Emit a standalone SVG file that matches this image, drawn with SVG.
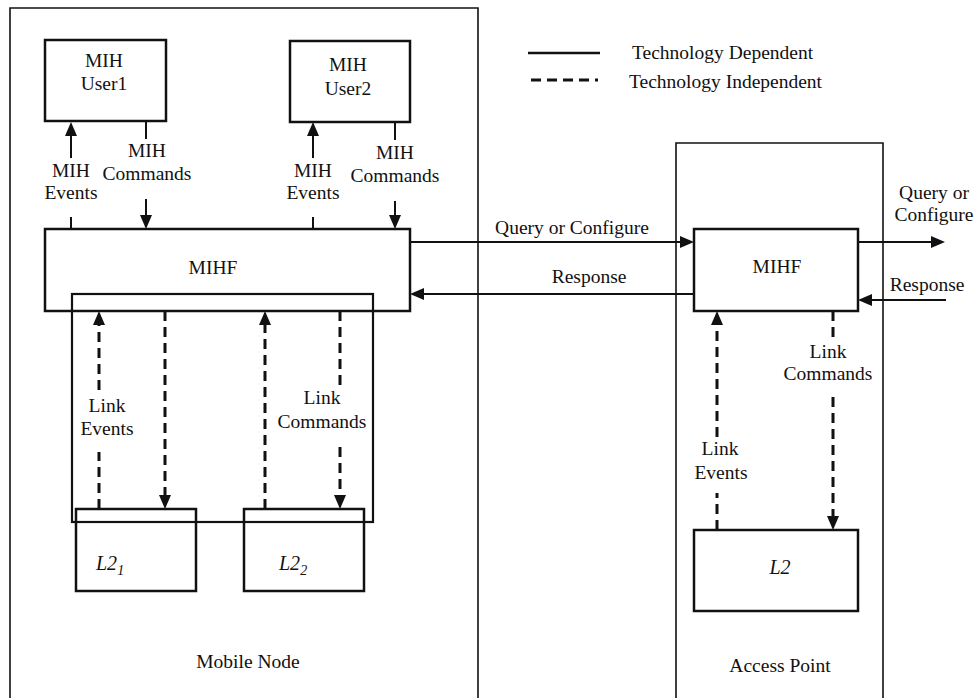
<svg xmlns="http://www.w3.org/2000/svg" width="976" height="698" viewBox="0 0 976 698">
<defs>
<style>
text{font-family:"Liberation Serif","Times New Roman",serif;font-size:19.5px;fill:#111;}
.m{text-anchor:middle;}
.box{fill:#fff;stroke:#111;stroke-width:2.5;}
.obox{fill:none;stroke:#111;stroke-width:2.5;}
.frame{fill:none;stroke:#111;stroke-width:1.6;}
.inner{fill:none;stroke:#111;stroke-width:2.2;}
.solid{fill:none;stroke:#111;stroke-width:2;}
.dash{fill:none;stroke:#111;stroke-width:3;stroke-dasharray:10 6;}
.it{font-style:italic;font-size:20px;}
</style>
<marker id="ah" viewBox="0 0 14 12" markerWidth="14" markerHeight="12" refX="4" refY="6" orient="auto" markerUnits="userSpaceOnUse">
<path d="M0,0 L14,6 L0,12 z" fill="#111"/>
</marker>
</defs>
<rect width="976" height="698" fill="#fff"/>

<g id="mobile-node">
<path class="frame" d="M10,698 V8 H478 V698"/>
<text class="m" x="248" y="668">Mobile Node</text>
</g>
<g id="access-point">
<path class="frame" d="M676,698 V143 H883 V698"/>
<text class="m" x="780" y="672">Access Point</text>
</g>

<g id="legend">
<line x1="528" y1="53" x2="600" y2="53" stroke="#111" stroke-width="2.5"/>
<line x1="531" y1="80" x2="601" y2="80" stroke="#111" stroke-width="3" stroke-dasharray="10 6 10 6 10 6 10 6 3 100"/>
<text x="632" y="59">Technology Dependent</text>
<text x="629" y="88">Technology Independent</text>
</g>

<g id="mih-user1">
<rect class="box" x="45" y="40" width="121" height="81"/>
<text class="m" x="104" y="67">MIH</text>
<text class="m" x="104" y="90">User1</text>
</g>
<g id="mih-user2">
<rect class="box" x="290" y="41" width="120" height="81"/>
<text class="m" x="348" y="71">MIH</text>
<text class="m" x="348" y="95">User2</text>
</g>

<g id="mn-l2-group">
<rect class="inner" x="72" y="294" width="301" height="228"/>
</g>
<g id="mn-mihf">
<rect class="obox" x="45" y="229" width="365" height="82"/>
<text class="m" x="213" y="274">MIHF</text>
</g>
<g id="mn-l2-1">
<rect class="obox" x="76" y="509" width="120" height="82"/>
<text class="it" x="96" y="570">L2<tspan font-size="14" dy="5">1</tspan></text>
</g>
<g id="mn-l2-2">
<rect class="obox" x="244" y="509" width="120" height="82"/>
<text class="it" x="279" y="570">L2<tspan font-size="14" dy="5">2</tspan></text>
</g>

<g id="ap-mihf">
<rect class="box" x="694" y="229" width="164" height="82"/>
<text class="m" x="777" y="273">MIHF</text>
</g>
<g id="ap-l2">
<rect class="box" x="694" y="530" width="164" height="81"/>
<text class="it m" x="780" y="574">L2</text>
</g>

<g id="connectors">
<line class="solid" x1="71" y1="158" x2="71" y2="132" marker-end="url(#ah)"/>
<line class="solid" x1="71" y1="217" x2="71" y2="229"/>
<line class="solid" x1="146" y1="122" x2="146" y2="139"/>
<line class="solid" x1="146" y1="199" x2="146" y2="219" marker-end="url(#ah)"/>
<line class="solid" x1="313" y1="158" x2="313" y2="132" marker-end="url(#ah)"/>
<line class="solid" x1="313" y1="217" x2="313" y2="229"/>
<line class="solid" x1="395" y1="122" x2="395" y2="140"/>
<line class="solid" x1="395" y1="201" x2="395" y2="219" marker-end="url(#ah)"/>

<line class="solid" x1="410" y1="242" x2="684" y2="242" marker-end="url(#ah)"/>
<line class="solid" x1="694" y1="294" x2="420" y2="294" marker-end="url(#ah)"/>
<line class="solid" x1="858" y1="242" x2="935" y2="242" marker-end="url(#ah)"/>
<line class="solid" x1="946" y1="300" x2="868" y2="300" marker-end="url(#ah)"/>

<line class="dash" x1="99" y1="509" x2="99" y2="452"/>
<line class="dash" x1="99" y1="390" x2="99" y2="321" marker-end="url(#ah)"/>
<line class="dash" x1="165" y1="311" x2="165" y2="499" marker-end="url(#ah)"/>
<line class="dash" x1="265" y1="509" x2="265" y2="321" marker-end="url(#ah)"/>
<line class="dash" x1="340" y1="311" x2="340" y2="387"/>
<line class="dash" x1="340" y1="447" x2="340" y2="499" marker-end="url(#ah)"/>

<line class="dash" x1="717" y1="530" x2="717" y2="493"/>
<line class="dash" x1="717" y1="437" x2="717" y2="321" marker-end="url(#ah)"/>
<line class="dash" x1="833" y1="311" x2="833" y2="343"/>
<line class="dash" x1="833" y1="397" x2="833" y2="520" marker-end="url(#ah)"/>
</g>

<g id="labels">
<text class="m" x="71" y="177">MIH</text>
<text class="m" x="71" y="199">Events</text>
<text class="m" x="147" y="157">MIH</text>
<text class="m" x="147" y="180">Commands</text>
<text class="m" x="313" y="177">MIH</text>
<text class="m" x="313" y="199">Events</text>
<text class="m" x="395" y="159">MIH</text>
<text class="m" x="395" y="182">Commands</text>

<text class="m" x="572" y="234">Query or Configure</text>
<text class="m" x="589" y="283">Response</text>
<text class="m" x="934" y="199">Query or</text>
<text class="m" x="934" y="221">Configure</text>
<text class="m" x="927" y="291">Response</text>

<text class="m" x="107" y="412">Link</text>
<text class="m" x="107" y="435">Events</text>
<text class="m" x="322" y="404">Link</text>
<text class="m" x="322" y="428">Commands</text>

<text class="m" x="720" y="455">Link</text>
<text class="m" x="721" y="479">Events</text>
<text class="m" x="828" y="358">Link</text>
<text class="m" x="828" y="380">Commands</text>
</g>
</svg>
